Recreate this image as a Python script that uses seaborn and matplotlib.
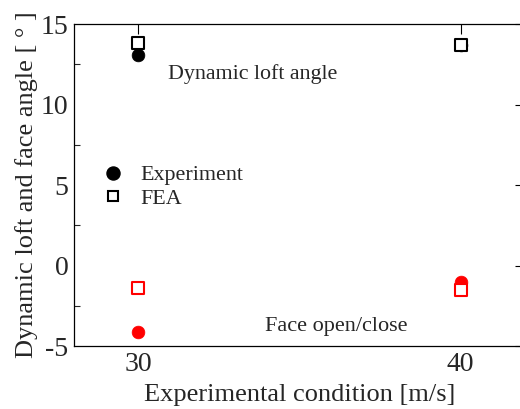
import matplotlib
matplotlib.use("Agg")
import matplotlib.pyplot as plt
from matplotlib.lines import Line2D
from matplotlib.ticker import MultipleLocator
import pandas as pd
import seaborn as sns

# Measured angles per impact speed
speed = [30, 40]
loft_experiment = [13.1, 13.7]
loft_fea = [13.8, 13.7]
face_experiment = [-4.1, -1.0]
face_fea = [-1.4, -1.5]

x_ticks = [30, 40]
y_ticks = [-5, 0, 5, 10, 15]

sns.set_theme(style="white")
plt.rcParams["font.family"] = ["Liberation Serif", "DejaVu Serif"]
plt.rcParams["axes.unicode_minus"] = False

fig = plt.figure(figsize=(5.2, 4.09), dpi=100)
ax = fig.add_axes([0.1423, 0.154, 0.8673, 0.7873])

frames = []
for quantity, method, values in [
    ("loft", "Experiment", loft_experiment),
    ("loft", "FEA", loft_fea),
    ("face", "Experiment", face_experiment),
    ("face", "FEA", face_fea),
]:
    frames.append(pd.DataFrame({"speed": speed, "angle": values,
                                "quantity": quantity, "method": method}))
df = pd.concat(frames, ignore_index=True)

colors = {"loft": "black", "face": "#ff0000"}

# open squares for simulation, drawn over the measurements
for quantity, color in colors.items():
    sub = df[(df.quantity == quantity) & (df.method == "FEA")]
    sns.scatterplot(data=sub, x="speed", y="angle", ax=ax, marker="s",
                    s=64, facecolor="white", edgecolor=color, linewidth=1.5,
                    zorder=4, legend=False)
# filled circles for measurements
for quantity, color in colors.items():
    sub = df[(df.quantity == quantity) & (df.method == "Experiment")]
    sns.scatterplot(data=sub, x="speed", y="angle", ax=ax, marker="o",
                    s=84, color=color, edgecolor=color, linewidth=0.5,
                    zorder=3, legend=False)

ax.set_xlim(28, 42)
ax.set_ylim(-5, 15)
ax.set_xticks(x_ticks)
ax.set_yticks(y_ticks)
ax.yaxis.set_minor_locator(MultipleLocator(2.5))
ax.tick_params(axis="both", which="major", direction="in", length=7, width=0.8,
               top=True, right=True, labelsize=20, color="black", pad=4)
ax.tick_params(axis="y", which="minor", direction="in", length=4.5, width=0.8,
               left=True, right=False)
for spine in ax.spines.values():
    spine.set_color("black")
    spine.set_linewidth(0.9)

ax.set_xlabel("Experimental condition [m/s]", fontsize=19, labelpad=5)
ax.set_ylabel("Dynamic loft and face angle [ ° ]", fontsize=19, labelpad=2)

fig.text(168 / 520, 1 - 74 / 409, "Dynamic loft angle", fontsize=15.8,
         va="center", ha="left")
fig.text(265 / 520, 1 - 327 / 409, "Face open/close", fontsize=16,
         va="center", ha="left")

handles = [
    Line2D([], [], marker="o", linestyle="none", color="black",
           markersize=9.4),
    Line2D([], [], marker="s", linestyle="none", markerfacecolor="white",
           markeredgecolor="black", markeredgewidth=1.5, markersize=7.6),
]
ax.legend(handles, ["Experiment", "FEA"], frameon=False, fontsize=15.8,
          loc="upper left", bbox_to_anchor=(92 / 520, 1 - 154 / 409),
          bbox_transform=fig.transFigure, handlelength=0.9,
          handletextpad=0.8, labelspacing=0.15, borderpad=0)

fig.savefig("out.png", dpi=100)
